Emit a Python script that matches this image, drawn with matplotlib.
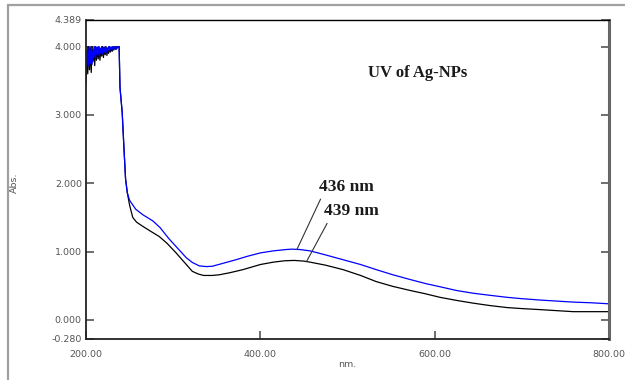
import numpy as np
import matplotlib
matplotlib.use("Agg")
import matplotlib.pyplot as plt
from matplotlib.patches import Rectangle

# saturated region (200-238 nm)
wl_sat = list(range(200, 239))
black_sat = [3.45, 3.95, 3.60, 4.00, 3.66, 3.98, 3.62, 4.00, 3.78, 3.97,
             3.72, 4.00, 3.80, 3.99, 3.82, 4.00, 3.80, 3.97, 3.86, 4.00,
             3.84, 3.99, 3.88, 4.00, 3.87, 3.98, 3.90, 4.00, 3.92, 3.99,
             3.93, 4.00, 3.95, 4.00, 3.96, 4.00, 3.98, 4.00, 4.00]
blue_sat = [3.92, 3.70, 4.00, 3.72, 3.98, 3.75, 4.00, 3.74, 3.95, 3.84,
            4.00, 3.83, 3.99, 3.88, 4.00, 3.87, 3.98, 3.90, 4.00, 3.89,
            3.99, 3.92, 4.00, 3.91, 3.98, 3.94, 4.00, 3.93, 3.99, 3.96,
            4.00, 3.95, 4.00, 3.97, 4.00, 3.96, 4.00, 3.99, 4.00]

# smooth part of the spectra
wl_blue = [239, 241.5, 243.4, 245.4, 247.4, 250, 257, 265, 276.5, 285, 295,
           305, 315, 322, 330, 338, 345, 355, 372, 385, 400, 415, 430, 436,
           445, 457, 475, 495, 515, 533, 552, 572, 590, 606, 625, 644, 663,
           683, 700, 721, 740, 759, 780, 800]
abs_blue = [3.40, 3.04, 2.55, 2.06, 1.86, 1.75, 1.62, 1.54, 1.45, 1.35, 1.19,
            1.05, 0.91, 0.84, 0.79, 0.78, 0.785, 0.82, 0.88, 0.93, 0.98, 1.01,
            1.03, 1.035, 1.03, 1.01, 0.95, 0.88, 0.81, 0.735, 0.66, 0.59, 0.53,
            0.485, 0.43, 0.39, 0.36, 0.33, 0.31, 0.29, 0.275, 0.26, 0.25, 0.235]

wl_black = [239, 241.5, 243.4, 245.4, 247.4, 250, 253.6, 258, 265, 275, 284,
            293, 303, 313, 322, 329, 335, 345, 353, 365, 380, 400, 415, 428,
            439, 450, 457, 475, 495, 515, 533, 552, 572, 590, 606, 625, 644,
            663, 683, 700, 721, 740, 759, 780, 800]
abs_black = [3.40, 3.04, 2.55, 2.06, 1.86, 1.68, 1.50, 1.43, 1.37, 1.29, 1.22,
             1.12, 0.985, 0.84, 0.71, 0.67, 0.65, 0.65, 0.66, 0.69, 0.735, 0.81,
             0.845, 0.865, 0.87, 0.86, 0.845, 0.80, 0.735, 0.65, 0.56, 0.49,
             0.43, 0.38, 0.33, 0.285, 0.245, 0.21, 0.18, 0.165, 0.15, 0.135,
             0.12, 0.12, 0.12]

peak_labels = ["436 nm", "439 nm"]
yticks = [-0.280, 0.0, 1.0, 2.0, 3.0, 4.0, 4.389]
xticks = [200, 400, 600, 800]

wb = np.array(wl_sat + wl_blue)
yb = np.array(blue_sat + abs_blue)
wk = np.array(wl_sat + wl_black)
yk = np.array(black_sat + abs_black)

fig = plt.figure(figsize=(6.25, 3.8), dpi=100)
ax = fig.add_axes([0.1376, 0.1079, 0.8368, 0.8395])

# grey outer frame (partly cut off like a screenshot)
fig.add_artist(Rectangle((8 / 625, -0.5), 2.0, 0.5 + 1 - 5 / 380,
                         transform=fig.transFigure, fill=False,
                         edgecolor="#a0a0a0", lw=1.6))

ax.plot(wk, yk, color="black", lw=0.9)
ax.plot(wb, yb, color="#0000ff", lw=0.9)

ax.set_xlim(200, 800)
ax.set_ylim(-0.280, 4.389)

ax.set_xticks(xticks)
ax.set_xticklabels([f"{v:.2f}" for v in xticks])
ax.set_yticks(yticks)
ax.set_yticklabels([f"{v:.3f}" for v in yticks])
ax.tick_params(axis="both", direction="in", length=6, width=1.2,
               color="#555555", labelsize=6.8, labelcolor="#555555")
ax.tick_params(axis="y", right=True, pad=3)
ax.tick_params(axis="x", pad=8)

for s in ["left", "bottom"]:
    ax.spines[s].set_color("#222222")
    ax.spines[s].set_linewidth(1.3)
ax.spines["top"].set_linewidth(1.0)
ax.spines["right"].set_color("#666666")
ax.spines["right"].set_linewidth(2.2)

ax.set_xlabel("nm.", fontsize=6.8, color="#555555", labelpad=1)
ax.set_ylabel("Abs.", fontsize=6.8, color="#555555")
ax.yaxis.set_label_coords(-0.128, 0.49)

serif = dict(family="Liberation Serif", fontweight="bold", color="#1a1a1a")
ax.text(580, 3.61, "UV of Ag-NPs", fontsize=12, ha="center", va="center", **serif)

# peak labels with leader lines
anchors = [(442, wb, yb, 467, 1.94, 469, 1.765),
           (453, wk, yk, 473, 1.59, 476.5, 1.41)]
for lab, (a, wx, wy, tx, ty, lx, ly) in zip(peak_labels, anchors):
    ay = np.interp(a, wx, wy)
    ax.plot([lx, a], [ly, ay], color="#333333", lw=0.8)
    ax.text(tx, ty, lab, fontsize=12.5, ha="left", va="center", **serif)

fig.savefig("out.png", dpi=100)
